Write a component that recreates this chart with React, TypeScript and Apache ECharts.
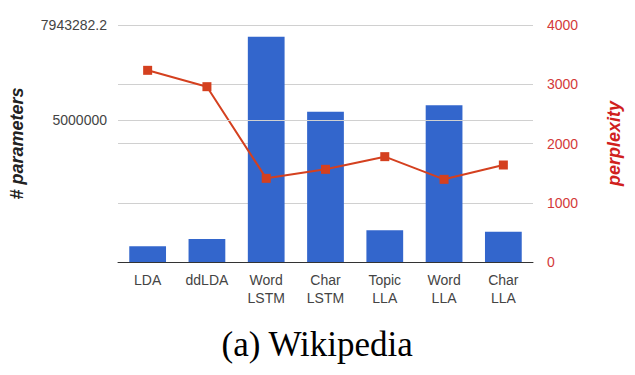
import React, { useEffect, useRef } from "react";
import * as echarts from "echarts";

const categories = ["LDA", "ddLDA", "Word\nLSTM", "Char\nLSTM", "Topic\nLLA", "Word\nLLA", "Char\nLLA"];
const parameters = [2710000, 2810000, 7500000, 5210000, 2930000, 5380000, 2910000];
const perplexity = [3235, 2959, 1412, 1564, 1778, 1395, 1637];
const leftTickValues = [5000000, 7943282.2];
const leftTickLabels = ["5000000", "7943282.2"];
const leftMin = 2511886.4;
const leftMax = 7943282.2;

export default function App() {
  const ref = useRef<HTMLDivElement>(null);
  useEffect(() => {
    if (!ref.current) return;
    const chart = echarts.init(ref.current, null, { renderer: "svg" });
    const font = "'Liberation Sans', Arial, sans-serif";
    chart.setOption({
      animation: false,
      grid: { left: 118, right: 102, top: 25, bottom: 113 },
      xAxis: {
        type: "category",
        data: categories,
        axisTick: { show: false },
        axisLine: { lineStyle: { color: "#333", width: 1 } },
        axisLabel: { color: "#444", fontSize: 14, fontFamily: font, lineHeight: 18, margin: 9, interval: 0 },
      },
      yAxis: [
        {
          type: "log",
          logBase: 10,
          min: leftMin,
          max: leftMax,
          position: "left",
          splitLine: { show: false },
          axisLine: { show: false },
          axisTick: { show: false },
          axisLabel: {
            customValues: leftTickValues,
            color: "#444",
            fontSize: 14,
            fontFamily: font,
            margin: 11,
            formatter: (v: number) => {
              let best = 0;
              leftTickValues.forEach((t, i) => {
                if (Math.abs(t - v) < Math.abs(leftTickValues[best] - v)) best = i;
              });
              return leftTickLabels[best];
            },
          },
          name: "# parameters",
          nameLocation: "middle",
          nameRotate: 90,
          nameGap: 92,
          nameTextStyle: { color: "#222", fontSize: 18, fontWeight: "bold", fontStyle: "italic", fontFamily: font },
        },
        {
          type: "value",
          min: 0,
          max: 4000,
          interval: 1000,
          position: "right",
          splitLine: { show: true, lineStyle: { color: "#d0d0d0", width: 1 } },
          axisLine: { show: false },
          axisTick: { show: false },
          axisLabel: { color: "#d33a3a", fontSize: 14, fontFamily: font, margin: 14, formatter: (v: number) => String(v) },
          name: "perplexity",
          nameLocation: "middle",
          nameRotate: 90,
          nameGap: 72,
          nameTextStyle: { color: "#d0201d", fontSize: 18, fontWeight: "bold", fontStyle: "italic", fontFamily: font },
        },
      ],
      series: [
        {
          type: "bar",
          yAxisIndex: 0,
          data: parameters,
          barWidth: "62%",
          clip: true,
          itemStyle: { color: "#3366cc" },
          markLine: {
            silent: true,
            symbol: "none",
            label: { show: false },
            lineStyle: { color: "#d0d0d0", type: "solid", width: 1 },
            data: [{ yAxis: 5000000 }],
          },
        },
        {
          type: "line",
          yAxisIndex: 1,
          data: perplexity,
          symbol: "rect",
          symbolSize: 9,
          lineStyle: { color: "#d4401f", width: 2 },
          itemStyle: { color: "#d4401f" },
        },
      ],
      graphic: [
        {
          type: "text",
          left: "center",
          top: 327,
          style: { text: "(a) Wikipedia", fontSize: 35, fontFamily: "'Liberation Serif', 'Times New Roman', serif", fill: "#000" },
        },
      ],
    });
    return () => chart.dispose();
  }, []);
  return <div ref={ref} style={{ position: "fixed", left: 0, top: 0, width: 635, height: 375, background: "#fff" }} />;
}
